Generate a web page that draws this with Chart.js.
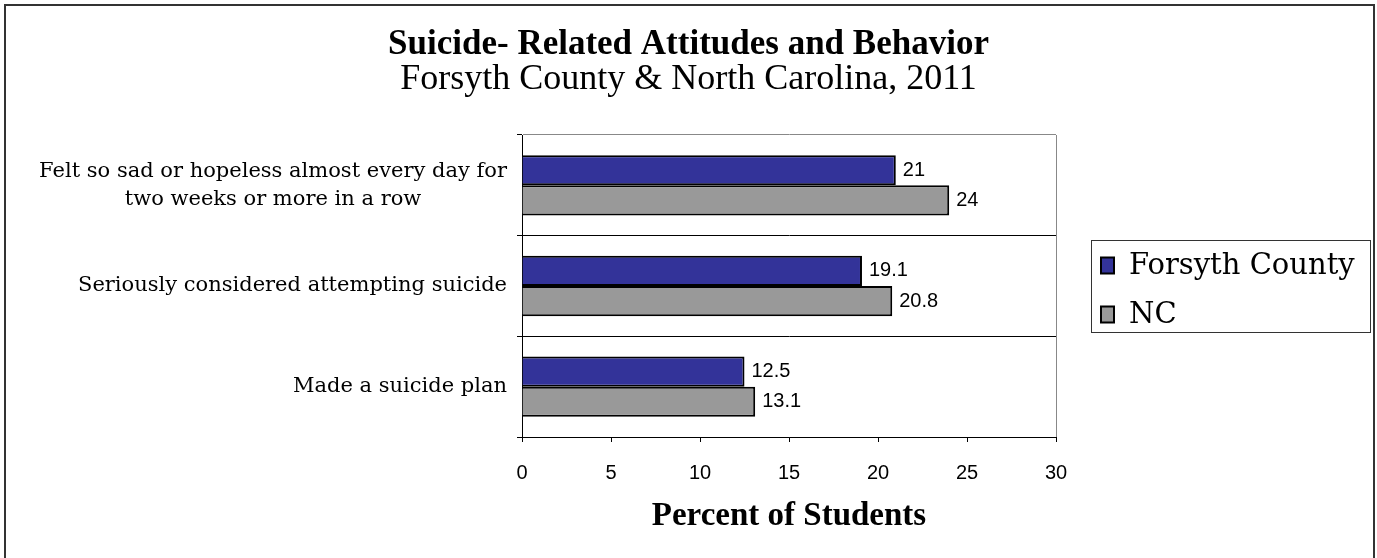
<!DOCTYPE html>
<html>
<head>
<meta charset="utf-8">
<script src="https://cdn.jsdelivr.net/npm/chart.js@4.4.1/dist/chart.umd.min.js"></script>
<style>
  html, body { margin: 0; padding: 0; background: #fff; overflow: hidden; }
  #frame { position: absolute; left: 4px; top: 4px; width: 1367px; height: 600px; border: 2px solid #333; }
  #myChart { position: absolute; left: 0; top: 0; }
</style>
</head>
<body>
<div id="frame"></div>
<canvas id="myChart" width="1377" height="558"></canvas>
<script>
const categories = [
    ["Felt so sad or hopeless almost every day for", "two weeks or more in a row"],
    "Seriously considered attempting suicide",
    "Made a suicide plan"
];
const forsythValues = [21, 19.1, 12.5];
const ncValues = [24, 20.8, 13.1];
const seriesNames = ["Forsyth County", "NC"];
const xTicks = [0, 5, 10, 15, 20, 25, 30];

// category labels: block right aligned, lines centred on each other
const categoryLabels = {
    id: 'categoryLabels',
    afterDraw(chart) {
        const ctx = chart.ctx;
        const scale = chart.scales.y;
        const right = scale.right - 15;
        const lineH = 28.5;
        ctx.save();
        ctx.font = '21px "DejaVu Serif", serif';
        ctx.fillStyle = '#000';
        ctx.textAlign = 'center';
        ctx.textBaseline = 'middle';
        chart.data.labels.forEach((label, i) => {
            const lines = Array.isArray(label) ? label : [label];
            const maxW = Math.max(...lines.map(l => ctx.measureText(l).width));
            const cy = scale.getPixelForValue(i);
            lines.forEach((line, k) => {
                ctx.fillText(line, right - maxW / 2, cy + (k - (lines.length - 1) / 2) * lineH);
            });
        });
        ctx.restore();
    }
};

// value labels at the end of each bar
const valueLabels = {
    id: 'valueLabels',
    afterDatasetsDraw(chart) {
        const ctx = chart.ctx;
        ctx.save();
        ctx.font = '20px "Liberation Sans", Arial, sans-serif';
        ctx.fillStyle = '#000';
        ctx.textAlign = 'left';
        ctx.textBaseline = 'middle';
        chart.data.datasets.forEach((ds, i) => {
            chart.getDatasetMeta(i).data.forEach((bar, j) => {
                ctx.fillText(String(ds.data[j]), bar.x + 7, bar.y);
            });
        });
        ctx.restore();
    }
};

// boxed legend on the right
const boxLegend = {
    id: 'boxLegend',
    afterDraw(chart) {
        const ctx = chart.ctx;
        const left = 1091, top = 240, w = 279, h = 92;
        ctx.save();
        ctx.strokeStyle = '#333';
        ctx.lineWidth = 1;
        ctx.strokeRect(left + 0.5, top + 0.5, w, h);
        ctx.font = '29px "DejaVu Serif", serif';
        ctx.textBaseline = 'middle';
        chart.data.datasets.forEach((ds, i) => {
            const cy = top + 25.5 + i * 49;
            ctx.fillStyle = ds.backgroundColor;
            ctx.fillRect(left + 10, cy - 8, 13, 16);
            ctx.strokeStyle = '#000';
            ctx.lineWidth = 2;
            ctx.strokeRect(left + 10, cy - 8, 13, 16);
            ctx.fillStyle = '#000';
            ctx.fillText(ds.label, left + 38, cy + 1);
        });
        ctx.restore();
    }
};

const ctx = document.getElementById('myChart').getContext('2d');
const myChart = new Chart(ctx, {
    type: 'bar',
    data: {
        labels: categories,
        datasets: [
            {
                label: seriesNames[0],
                data: forsythValues,
                backgroundColor: '#333399',
                borderColor: '#000',
                borderWidth: 2
            },
            {
                label: seriesNames[1],
                data: ncValues,
                backgroundColor: '#999999',
                borderColor: '#000',
                borderWidth: 2
            }
        ]
    },
    options: {
        indexAxis: 'y',
        responsive: false,
        animation: false,
        devicePixelRatio: 1,
        categoryPercentage: 0.6,
        barPercentage: 1,
        layout: { padding: 0 },
        plugins: {
            legend: { display: false },
            tooltip: { enabled: false },
            title: {
                display: true,
                text: 'Suicide- Related Attitudes and Behavior',
                color: '#000',
                font: { family: '"Liberation Serif", serif', size: 35, weight: 'bold', lineHeight: 1 },
                padding: { top: 27, bottom: 0 }
            },
            subtitle: {
                display: true,
                text: 'Forsyth County & North Carolina, 2011',
                color: '#000',
                font: { family: '"Liberation Serif", serif', size: 36, lineHeight: 1 },
                padding: { top: 0, bottom: 37 }
            }
        },
        scales: {
            x: {
                min: xTicks[0],
                max: xTicks[xTicks.length - 1],
                afterBuildTicks(scale) {
                    scale.ticks = xTicks.map(v => ({ value: v }));
                },
                afterFit(scale) { scale.height = 121; },
                grid: {
                    color: c => (c.tick && c.tick.value === xTicks[xTicks.length - 1]) ? '#888' : 'rgba(0,0,0,0)',
                    tickColor: '#000',
                    tickLength: 5
                },
                border: { color: '#000', width: 1 },
                ticks: {
                    color: '#000',
                    padding: 19,
                    font: { family: '"Liberation Sans", Arial, sans-serif', size: 20 }
                },
                title: {
                    display: true,
                    text: 'Percent of Students',
                    color: '#000',
                    font: { family: '"Liberation Serif", serif', size: 33, weight: 'bold', lineHeight: 1.2 },
                    padding: { top: 0, bottom: 22 }
                }
            },
            y: {
                afterFit(scale) { scale.width = 522; },
                grid: {
                    offset: true,
                    color: c => c.index === 0 ? '#888' : '#000',
                    tickColor: '#000',
                    tickLength: 5
                },
                border: { color: '#000', width: 1 },
                ticks: { display: false }
            },
            side: {
                position: 'right',
                type: 'linear',
                afterFit(scale) { scale.width = 321; },
                grid: { display: false },
                border: { display: false },
                ticks: { display: false }
            }
        }
    },
    plugins: [categoryLabels, valueLabels, boxLegend]
});
</script>
</body>
</html>
